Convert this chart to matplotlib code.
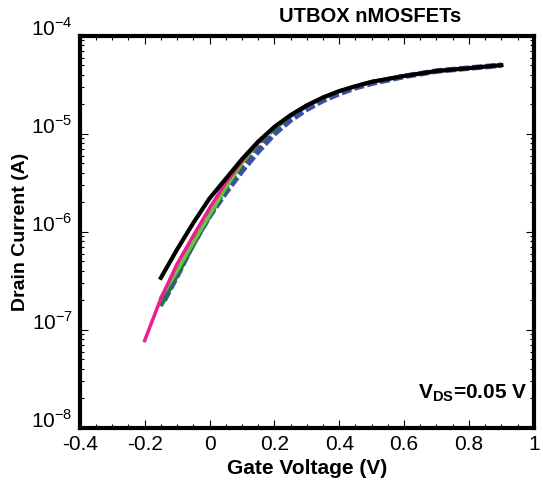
import matplotlib
matplotlib.use("Agg")
import matplotlib.pyplot as plt
from matplotlib.ticker import LogLocator, MultipleLocator, NullFormatter
import numpy as np

plt.rcParams["font.family"] = ["Liberation Sans", "DejaVu Sans"]
plt.rcParams["mathtext.fontset"] = "custom"
plt.rcParams["mathtext.rm"] = "Liberation Sans"
plt.rcParams["mathtext.bf"] = "Liberation Sans:bold"

# gate voltage (V) and log10 drain current (A)
vg_black = [-0.15, -0.1, -0.05, 0.0, 0.05, 0.1, 0.15, 0.2, 0.25, 0.3, 0.35, 0.4, 0.45, 0.5, 0.55, 0.6, 0.7, 0.8, 0.9]
lg_black = [-6.47, -6.18, -5.91, -5.66, -5.46, -5.26, -5.08, -4.93, -4.81, -4.71, -4.63, -4.565, -4.515, -4.47, -4.44, -4.41, -4.36, -4.33, -4.30]

vg_pink = [-0.2, -0.15, -0.1, -0.05, 0.0, 0.05, 0.1, 0.15, 0.2, 0.25, 0.3, 0.35, 0.4, 0.45, 0.5, 0.55, 0.6, 0.7, 0.8, 0.9]
lg_pink = [-7.11, -6.68, -6.33, -6.04, -5.76, -5.50, -5.28, -5.09, -4.93, -4.81, -4.71, -4.63, -4.565, -4.515, -4.47, -4.44, -4.41, -4.36, -4.33, -4.30]

vg_lgreen = [-0.15, -0.1, -0.05, 0.0, 0.05, 0.1, 0.15, 0.2, 0.25, 0.3, 0.35, 0.4, 0.45, 0.5, 0.55, 0.6, 0.7, 0.8, 0.9]
lg_lgreen = [-6.67, -6.40, -6.11, -5.83, -5.55, -5.30, -5.09, -4.93, -4.81, -4.71, -4.63, -4.565, -4.515, -4.47, -4.44, -4.41, -4.36, -4.33, -4.30]

vg_dgreen = [-0.15, -0.1, -0.05, 0.0, 0.05, 0.1, 0.15, 0.2, 0.25, 0.3, 0.35, 0.4, 0.45, 0.5, 0.55, 0.6, 0.7, 0.8, 0.9]
lg_dgreen = [-6.76, -6.45, -6.14, -5.85, -5.57, -5.32, -5.11, -4.95, -4.82, -4.72, -4.63, -4.565, -4.515, -4.47, -4.44, -4.41, -4.36, -4.33, -4.30]

vg_blue = [-0.14, -0.1, -0.05, 0.0, 0.05, 0.1, 0.15, 0.2, 0.25, 0.3, 0.35, 0.4, 0.45, 0.5, 0.55, 0.6, 0.7, 0.8, 0.9]
lg_blue = [-6.70, -6.45, -6.12, -5.84, -5.60, -5.38, -5.18, -5.00, -4.86, -4.75, -4.66, -4.59, -4.53, -4.485, -4.45, -4.415, -4.36, -4.33, -4.30]

x_ticks = [-0.4, -0.2, 0, 0.2, 0.4, 0.6, 0.8, 1]
x_labels = ["-0.4", "-0.2", "0", "0.2", "0.4", "0.6", "0.8", "1"]
y_ticks = [1e-8, 1e-7, 1e-6, 1e-5, 1e-4]
y_labels = ["10$^{-8}$", "10$^{-7}$", "10$^{-6}$", "10$^{-5}$", "10$^{-4}$"]


def main():
    fig = plt.figure(figsize=(5.43, 4.90), dpi=100)
    ax = fig.add_axes([0.147, 0.127, 0.836, 0.800])

    ax.plot(vg_blue, 10 ** np.array(lg_blue), color="#3a4fa8", lw=4.0, dashes=(1.8, 0.6))
    ax.plot(vg_dgreen, 10 ** np.array(lg_dgreen), color="#1f7a3a", lw=2.8, dashes=(2.5, 0.8))
    ax.plot(vg_lgreen, 10 ** np.array(lg_lgreen), "-", color="#6cc04a", lw=2.5)
    ax.plot(vg_pink, 10 ** np.array(lg_pink), "-", color="#ec1f8c", lw=2.5)
    ax.plot(vg_black, 10 ** np.array(lg_black), "-", color="black", lw=3.0)

    ax.set_yscale("log")
    ax.set_xlim(-0.4, 1.0)
    ax.set_ylim(1e-8, 1e-4)
    ax.set_xticks(x_ticks)
    ax.set_xticklabels(x_labels)
    ax.xaxis.set_minor_locator(MultipleLocator(0.05))
    ax.set_yticks(y_ticks)
    ax.set_yticklabels(y_labels)
    ax.yaxis.set_minor_locator(LogLocator(base=10, subs=np.arange(2, 10), numticks=20))
    ax.yaxis.set_minor_formatter(NullFormatter())
    plt.setp(ax.get_yticklabels(), va="baseline")

    ax.tick_params(which="both", direction="in", top=True, right=True, labelsize=15)
    ax.tick_params(which="major", length=6, width=0.8, pad=5)
    ax.tick_params(which="minor", length=3, width=0.8)
    for s in ax.spines.values():
        s.set_linewidth(3)

    ax.set_xlabel("Gate Voltage (V)", fontsize=15, fontweight="bold")
    ax.set_ylabel("Drain Current (A)", fontsize=14, fontweight="bold")
    ax.yaxis.set_label_coords(-0.112, 0.5)
    ax.set_title("UTBOX nMOSFETs", fontsize=14.5, fontweight="bold", pad=10, x=0.64)
    ax.text(0.985, 0.06, r"V$_{\mathbf{DS}}$=0.05 V", transform=ax.transAxes,
            ha="right", va="bottom", fontsize=15, fontweight="bold")

    fig.savefig("out.png", dpi=100)
    plt.close(fig)


if __name__ == "__main__":
    main()
